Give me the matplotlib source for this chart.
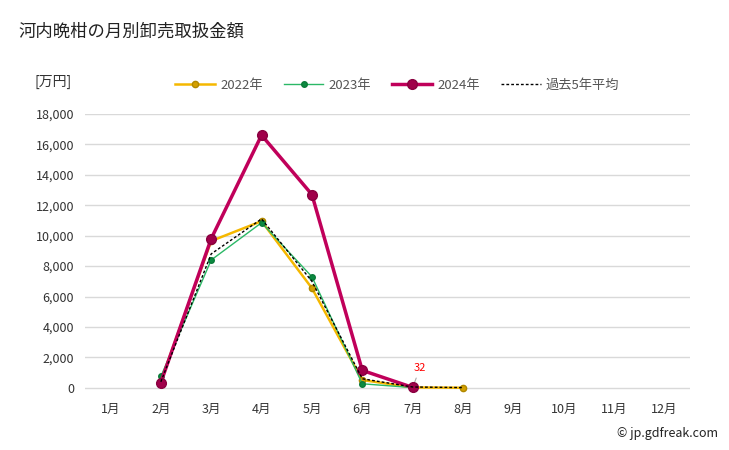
import matplotlib
matplotlib.use("Agg")
import matplotlib.pyplot as plt
import numpy as np

plt.rcParams['font.family'] = ['Noto Sans CJK JP', 'DejaVu Sans']

months = ["1月", "2月", "3月", "4月", "5月", "6月", "7月", "8月", "9月", "10月", "11月", "12月"]
nan = np.nan
v2022 = [nan, 450, 9650, 10950, 6550, 520, 30, 10, nan, nan, nan, nan]
v2023 = [nan, 750, 8400, 10850, 7300, 270, 20, nan, nan, nan, nan, nan]
v2024 = [nan, 350, 9800, 16600, 12700, 1150, 32, nan, nan, nan, nan, nan]
vavg = [nan, 400, 8800, 11100, 7000, 600, 60, 20, nan, nan, nan, nan]
yticks = [0, 2000, 4000, 6000, 8000, 10000, 12000, 14000, 16000, 18000]

fig = plt.figure(figsize=(7.29, 4.5), dpi=100)
ax = fig.add_axes([0.117, 0.116, 0.829, 0.631])
x = np.arange(len(months))

ax.plot(x, v2022, color="#f5b800", lw=1.8, marker="o", ms=4.5, mfc="#d4a000", mec="#b08800", label="2022年", zorder=3)
ax.plot(x, v2023, color="#2bb866", lw=1.0, marker="o", ms=4, mfc="#0a8a40", mec="#0a7a38", label="2023年", zorder=4)
ax.plot(x, v2024, color="#c0005a", lw=2.5, marker="o", ms=7, mfc="#a0004a", mec="#8a0040", label="2024年", zorder=5)
ax.plot(x, vavg, color="black", lw=1.0, ls=(0, (2, 1.5)), label="過去5年平均", zorder=6)

ax.annotate("32", xy=(6, 32), xytext=(6.15, 1000), color="red", fontsize=8,
            ha="center", va="bottom",
            arrowprops=dict(arrowstyle="-", color="#aaaaaa", lw=0.8))

ax.set_xlim(-0.5, 11.5)
ax.set_ylim(-650, 18000)
ax.set_xticks(x)
ax.set_xticklabels(months, fontsize=9, color="#333333")
ax.set_yticks(yticks)
ax.set_yticklabels([f"{v:,}" for v in yticks], fontsize=9, color="#333333")
ax.grid(axis="y", color="#d9d9d9", lw=1)
ax.set_axisbelow(True)
for s in ax.spines.values():
    s.set_visible(False)
ax.tick_params(axis="y", length=0, pad=8)
ax.tick_params(axis="x", length=0, pad=4)

fig.text(0.025, 0.929, "河内晩柑の月別卸売取扱金額", fontsize=12.5, color="#222222", va="center")
fig.text(0.048, 0.818, "[万円]", fontsize=10, color="#333333", va="center")
fig.text(0.985, 0.036, "© jp.gdfreak.com", fontsize=9, color="#222222", ha="right", va="center")

leg = fig.legend(loc="center", bbox_to_anchor=(0.545, 0.81), ncol=4, frameon=False,
                 fontsize=9.5, handlelength=3, columnspacing=1.6, handletextpad=0.4)
for t in leg.get_texts():
    t.set_color("#555555")

fig.savefig("out.png", dpi=100)
